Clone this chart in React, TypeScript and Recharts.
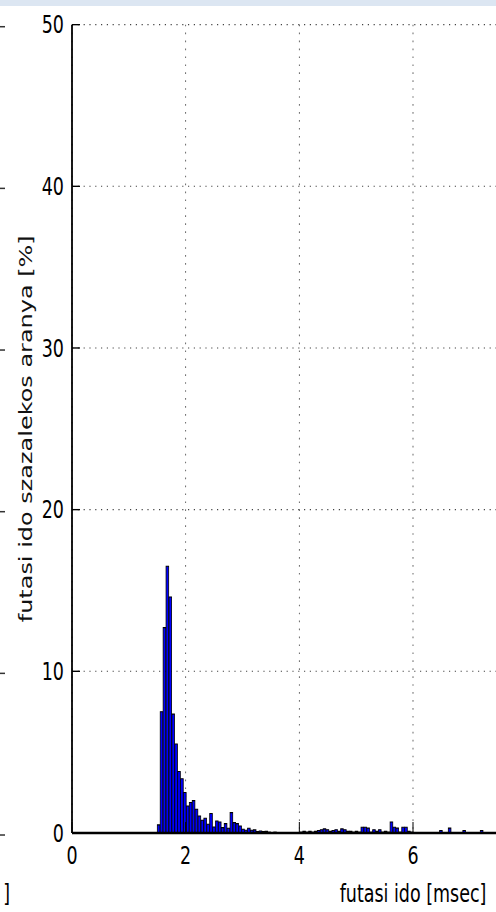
import { BarChart, Bar, XAxis, YAxis, CartesianGrid } from 'recharts'

// histogram bins, msec
const BIN_START = 1.5014
const BIN_WIDTH = 0.0512

// share of runs falling into each bin [%]
const binShare = [
  0.5, 7.5, 12.7, 16.5, 14.6, 7.35, 5.5, 3.8, 3.35, 2.5,
  1.67, 1.88, 2.0, 1.47, 1.05, 0.79, 0.91, 0.54, 1.2, 0.37,
  0.74, 0.68, 0.33, 0.58, 0.29, 1.26, 0.64, 0.58, 0.43, 0.23,
  0.17, 0.29, 0.17, 0.19, 0.08, 0.12, 0.08, 0.1, 0.05, 0,
  0.05, 0, 0, 0, 0, 0, 0, 0, 0, 0.05,
  0.1, 0.05, 0.1, 0.05, 0.1, 0.15, 0.2, 0.25, 0.2, 0.1,
  0.15, 0.2, 0.1, 0.25, 0.2, 0.1, 0.1, 0.05, 0.1, 0.05,
  0.35, 0.35, 0.3, 0.05, 0.2, 0.1, 0.2, 0.05, 0.1, 0.05,
  0.68, 0.35, 0.3, 0.05, 0.35, 0.35, 0.1, 0.05, 0, 0,
  0, 0, 0, 0, 0, 0, 0, 0.15, 0, 0,
  0.3, 0, 0, 0, 0, 0.15, 0, 0, 0, 0,
  0, 0.15,
]

// only the ticks inside the visible part of the axis
const xTicks = [0, 2, 4, 6]
const yTicks = [0, 10, 20, 30, 40, 50]
const X_MAX = 12
const Y_MAX = 50

const xTitle = 'futasi ido [msec]'
const yTitle = 'futasi ido szazalekos aranya [%]'

const data = binShare.map((share, i) => ({
  t: +(BIN_START + (i + 0.5) * BIN_WIDTH).toFixed(4),
  share,
}))

// the figure is drawn flat and then stretched vertically
const STRETCH = 1.37
const W = 780
const H = 666
const MARGIN = { top: 18, right: 26, bottom: 0, left: 0 }
const Y_AXIS_W = 72
const X_AXIS_H = 58
const PLOT_W = W - MARGIN.left - MARGIN.right - Y_AXIS_W
const BAR_PX = (BIN_WIDTH * PLOT_W) / X_MAX

const TICK_LEN = 8
const FONT = { fontFamily: 'DejaVu Sans', fontSize: 17.5, fill: '#000' }

function BottomTick({ x, y, payload }: any) {
  return (
    <g>
      <line x1={x} x2={x} y1={y} y2={y - TICK_LEN} stroke="#000" strokeWidth={1} />
      <text x={x} y={y + 22.4} textAnchor="middle" {...FONT}>{payload.value}</text>
    </g>
  )
}

function TopTick({ x, y }: any) {
  return <line x1={x} x2={x} y1={y} y2={y + TICK_LEN} stroke="#000" strokeWidth={1} />
}

function LeftTick({ x, y, payload }: any) {
  return (
    <g>
      <line x1={x} x2={x + TICK_LEN} y1={y} y2={y} stroke="#000" strokeWidth={1} />
      <text x={x - 8} y={y} dy="0.36em" textAnchor="end" {...FONT}>{payload.value}</text>
      {/* neighbouring panel's ticks peeking in at the left edge */}
      <line x1={0} x2={5} y1={y + 1.5} y2={y + 1.5} stroke="#333" strokeWidth={1.1} />
    </g>
  )
}

function XTitle({ viewBox }: any) {
  const { x = Y_AXIS_W, y = H - X_AXIS_H, width = PLOT_W } = viewBox || {}
  return (
    <g>
      <text x={x + width / 2} y={y + 50.4} textAnchor="middle" {...FONT}>{xTitle}</text>
      <text x={10} y={y + 50.4} textAnchor="end" {...FONT}>]</text>
    </g>
  )
}

function YTitle({ viewBox }: any) {
  const { x = 0, y = MARGIN.top, height = H - MARGIN.top - X_AXIS_H } = viewBox || {}
  return (
    <text
      transform={`translate(${x + 31.5}, ${y + height / 2}) rotate(-90)`}
      textAnchor="middle"
      {...FONT}
      fill="#111"
    >
      {yTitle}
    </text>
  )
}

export default function App() {
  return (
    <div style={{ position: 'absolute', left: 0, top: 0, width: 496, height: 912, overflow: 'hidden', background: '#fff' }}>
      <div style={{ position: 'absolute', left: 0, top: 0, width: '100%', height: 6, background: '#dce6f2', zIndex: 1 }} />
      <div style={{ width: W, height: H, transform: `scaleY(${STRETCH})`, transformOrigin: '0 0' }}>
        <BarChart width={W} height={H} data={data} margin={MARGIN} barCategoryGap={0} barGap={0}>
          <XAxis
            dataKey="t"
            type="number"
            domain={[0, X_MAX]}
            ticks={xTicks}
            interval={0}
            height={X_AXIS_H}
            tickSize={0}
            tickMargin={0}
            tickLine={false}
            tick={<BottomTick />}
            axisLine={{ stroke: '#000', strokeWidth: 1.8 }}
            label={<XTitle />}
          />
          <XAxis
            xAxisId="top"
            orientation="top"
            dataKey="t"
            type="number"
            domain={[0, X_MAX]}
            ticks={xTicks}
            interval={0}
            height={0}
            tickSize={0}
            tickMargin={0}
            tickLine={false}
            tick={<TopTick />}
            axisLine={{ stroke: '#000', strokeWidth: 1.8 }}
          />
          <YAxis
            type="number"
            domain={[0, Y_MAX]}
            ticks={yTicks}
            interval={0}
            width={Y_AXIS_W}
            tickSize={0}
            tickMargin={0}
            tickLine={false}
            tick={<LeftTick />}
            axisLine={{ stroke: '#000', strokeWidth: 1.8 }}
            label={<YTitle />}
          />
          <Bar
            dataKey="share"
            fill="#0000ff"
            stroke="#000"
            strokeWidth={0.8}
            barSize={BAR_PX}
            isAnimationActive={false}
          />
          <CartesianGrid stroke="#444" strokeWidth={0.8} strokeDasharray="1.2 4.6" />
        </BarChart>
      </div>
    </div>
  )
}
